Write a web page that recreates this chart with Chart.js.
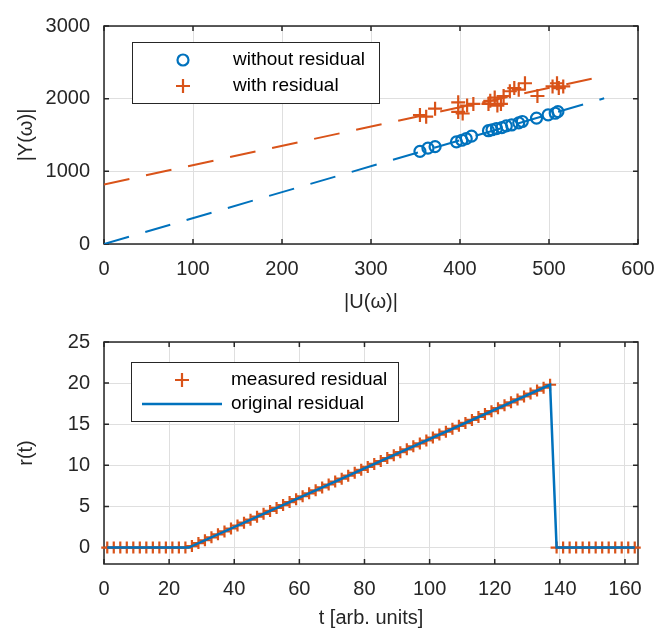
<!DOCTYPE html>
<html>
<head>
<meta charset="utf-8">
<script src="https://cdn.jsdelivr.net/npm/chart.js@4.4.0/dist/chart.umd.min.js"></script>
<style>
  body { margin: 0; background: #fff; }
  canvas { position: absolute; left: 0; }
  #top { top: 0; }
  #bottom { top: 316px; }
</style>
</head>
<body>
<canvas id="top" width="670" height="316"></canvas>
<canvas id="bottom" width="670" height="317"></canvas>
<script>
// ---- top panel: |Y(w)| against |U(w)| ----
const uWithout = [355, 364, 372, 396, 402, 407, 413, 432, 436, 441, 447, 452, 458, 466, 470, 486, 499, 507, 510];
const yWithout = [1275, 1319, 1340, 1406, 1428, 1450, 1485, 1559, 1572, 1589, 1602, 1625, 1638, 1668, 1686, 1733, 1778, 1799, 1821];
const uWith = [355, 362, 372, 398, 398, 403, 408, 415, 432, 434, 439, 442, 446, 449, 456, 461, 466, 473, 487, 504, 509, 511, 516];
const yWith = [1774, 1752, 1862, 1818, 1949, 1796, 1905, 1927, 1927, 1971, 2015, 1905, 1927, 2037, 2102, 2146, 2124, 2212, 2037, 2168, 2212, 2146, 2168];
const fitWithoutU = [0, 562];
const fitWithoutY = [0, 2005];
const fitWithU = [0, 550];
const fitWithY = [820, 2280];
const uTicks = [0, 100, 200, 300, 400, 500, 600];
const yTicksTop = [0, 1000, 2000, 3000];

// ---- bottom panel: residual r(t) ----
const tMeasured = [1, 3, 5, 7, 9, 11, 13, 15, 17, 19, 21, 23, 25, 27, 29, 31, 33, 35, 37, 39, 41, 43, 45, 47, 49,
  51, 53, 55, 57, 59, 61, 63, 65, 67, 69, 71, 73, 75, 77, 79, 81, 83, 85, 87, 89, 91, 93, 95, 97, 99,
  101, 103, 105, 107, 109, 111, 113, 115, 117, 119, 121, 123, 125, 127, 129, 131, 133, 135, 137,
  139, 141, 143, 145, 147, 149, 151, 153, 155, 157, 159, 161, 163];
const rMeasured = [0, 0, 0, 0, 0, 0, 0, 0, 0, 0, 0, 0, 0, 0.18, 0.54, 0.89, 1.25, 1.61, 1.96, 2.32, 2.68, 3.03, 3.39, 3.75, 4.1,
  4.46, 4.82, 5.17, 5.53, 5.89, 6.24, 6.6, 6.96, 7.31, 7.67, 8.03, 8.38, 8.74, 9.1, 9.45, 9.81, 10.17, 10.53, 10.88, 11.24, 11.6, 11.95, 12.31, 12.67, 13.02,
  13.38, 13.74, 14.09, 14.45, 14.81, 15.16, 15.52, 15.88, 16.23, 16.59, 16.95, 17.3, 17.66, 18.02, 18.37, 18.73, 19.09, 19.44, 19.8,
  0, 0, 0, 0, 0, 0, 0, 0, 0, 0, 0, 0, 0];
const tOriginal = [1, 26, 137, 139, 163];
const rOriginal = [0, 0, 19.8, 0, 0];
const tTicks = [0, 20, 40, 60, 80, 100, 120, 140, 160];
const rTicks = [0, 5, 10, 15, 20, 25];

const BLUE = '#0072BD';
const ORANGE = '#D95319';
const AXIS = '#262626';
const FONT = 'Liberation Sans, Arial, sans-serif';

const pts = (xs, ys) => xs.map((x, i) => ({ x: x, y: ys[i] }));

// box around the axes + small ticks pointing inwards on all four sides
const framePlugin = {
  id: 'frame',
  beforeDatasetsDraw(chart) {
    const a = chart.chartArea, ctx = chart.ctx;
    const sx = chart.scales.x, sy = chart.scales.y;
    ctx.save();
    ctx.strokeStyle = AXIS;
    ctx.lineWidth = 1.5;
    ctx.beginPath();
    sx.ticks.forEach(t => {
      const px = sx.getPixelForValue(t.value);
      ctx.moveTo(px, a.bottom); ctx.lineTo(px, a.bottom - 5);
      ctx.moveTo(px, a.top); ctx.lineTo(px, a.top + 5);
    });
    sy.ticks.forEach(t => {
      const py = sy.getPixelForValue(t.value);
      ctx.moveTo(a.left, py); ctx.lineTo(a.left + 5, py);
      ctx.moveTo(a.right, py); ctx.lineTo(a.right - 5, py);
    });
    ctx.stroke();
    ctx.strokeRect(a.left, a.top, a.right - a.left, a.bottom - a.top);
    ctx.restore();
  }
};

// legend box drawn inside the plot like matlab does it
const boxLegendPlugin = {
  id: 'boxLegend',
  afterDatasetsDraw(chart, args, opts) {
    if (!opts.items) return;
    const ctx = chart.ctx;
    ctx.save();
    ctx.fillStyle = '#fff';
    ctx.fillRect(opts.x, opts.y, opts.w, opts.h);
    ctx.strokeStyle = AXIS;
    ctx.lineWidth = 1;
    ctx.strokeRect(opts.x + 0.5, opts.y + 0.5, opts.w, opts.h);
    opts.items.forEach(it => {
      ctx.strokeStyle = it.color;
      ctx.lineWidth = it.lw;
      ctx.beginPath();
      if (it.kind === 'circle') {
        ctx.arc(opts.iconX, it.y, 5.5, 0, Math.PI * 2);
      } else if (it.kind === 'cross') {
        ctx.moveTo(opts.iconX - 7, it.y); ctx.lineTo(opts.iconX + 7, it.y);
        ctx.moveTo(opts.iconX, it.y - 7); ctx.lineTo(opts.iconX, it.y + 7);
      } else {
        ctx.moveTo(opts.iconX - 40, it.y); ctx.lineTo(opts.iconX + 40, it.y);
      }
      ctx.stroke();
      ctx.fillStyle = '#000';
      ctx.font = '19px ' + FONT;
      ctx.textBaseline = 'middle';
      ctx.fillText(it.text, opts.textX, it.y);
    });
    ctx.restore();
  }
};

function axis(min, max, tickList, title, isX, fitSize, titlePad) {
  return {
    type: 'linear',
    min: min,
    max: max,
    afterBuildTicks: s => { s.ticks = tickList.map(v => ({ value: v })); },
    afterFit: s => { if (isX) s.height = fitSize; else s.width = fitSize; },
    grid: { color: '#dfdfdf', lineWidth: 1, drawTicks: false },
    border: { display: false },
    ticks: { color: AXIS, padding: isX ? 13 : 14, autoSkip: false, maxRotation: 0,
             font: { family: FONT, size: 20 }, callback: v => String(v) },
    title: { display: true, text: title, color: AXIS, font: { family: FONT, size: 20 }, padding: titlePad }
  };
}

const common = {
  responsive: false,
  animation: false,
  events: [],
  plugins: { legend: { display: false }, tooltip: { enabled: false } }
};

new Chart(document.getElementById('top'), {
  type: 'scatter',
  data: {
    datasets: [
      { data: pts(fitWithoutU, fitWithoutY), showLine: true, borderColor: BLUE, borderWidth: 2,
        borderDash: [26, 17], pointRadius: 0, order: 0 },
      { data: pts(fitWithU, fitWithY), showLine: true, borderColor: ORANGE, borderWidth: 2,
        borderDash: [26, 17], pointRadius: 0, order: 0 },
      { data: pts(uWithout, yWithout), pointStyle: 'circle', pointRadius: 5.5, borderColor: BLUE,
        backgroundColor: 'rgba(0,0,0,0)', borderWidth: 2.2, order: 1 },
      { data: pts(uWith, yWith), pointStyle: 'cross', pointRadius: 7, borderColor: ORANGE,
        borderWidth: 2.2, order: 1 }
    ]
  },
  options: Object.assign({}, common, {
    layout: { padding: { top: 15, right: 32, left: 0, bottom: 0 } },
    scales: {
      x: axis(0, 600, uTicks, '|U(ω)|', true, 72, { top: 0, bottom: 2 }),
      y: axis(0, 3000, yTicksTop, '|Y(ω)|', false, 104, { top: 14, bottom: 0 })
    },
    plugins: Object.assign({}, common.plugins, {
      boxLegend: { x: 132, y: 42, w: 247, h: 61, iconX: 183, textX: 233,
        items: [
          { kind: 'circle', color: BLUE, lw: 2.2, y: 60, text: 'without residual' },
          { kind: 'cross', color: ORANGE, lw: 2.2, y: 86, text: 'with residual' }
        ] }
    })
  }),
  plugins: [framePlugin, boxLegendPlugin]
});

new Chart(document.getElementById('bottom'), {
  type: 'scatter',
  data: {
    datasets: [
      { data: pts(tOriginal, rOriginal), showLine: true, borderColor: BLUE, borderWidth: 2.5,
        pointRadius: 0, order: 0, clip: false },
      { data: pts(tMeasured, rMeasured), pointStyle: 'cross', pointRadius: 6, borderColor: ORANGE,
        borderWidth: 2.2, order: 1, clip: false }
    ]
  },
  options: Object.assign({}, common, {
    layout: { padding: { top: 19, right: 32, left: 0, bottom: 0 } },
    scales: {
      x: axis(0, 164, tTicks, 't [arb. units]', true, 69, { top: 0, bottom: 3 }),
      y: axis(-2, 25, rTicks, 'r(t)', false, 104, { top: 14, bottom: 0 })
    },
    plugins: Object.assign({}, common.plugins, {
      boxLegend: { x: 131, y: 46, w: 267, h: 59, iconX: 182, textX: 231,
        items: [
          { kind: 'cross', color: ORANGE, lw: 2.2, y: 64, text: 'measured residual' },
          { kind: 'line', color: BLUE, lw: 2.5, y: 88, text: 'original residual' }
        ] }
    })
  }),
  plugins: [framePlugin, boxLegendPlugin]
});
</script>
</body>
</html>
